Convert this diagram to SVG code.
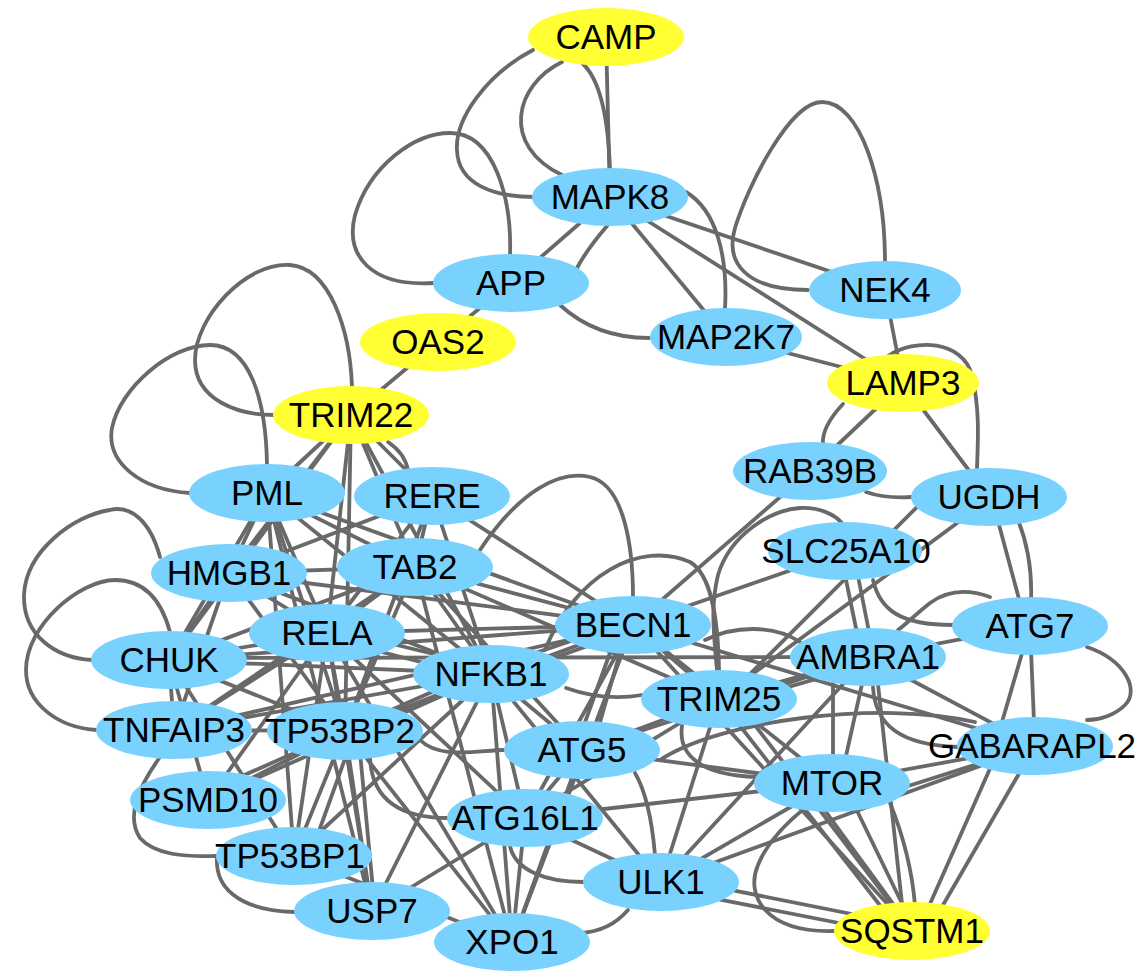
<svg xmlns="http://www.w3.org/2000/svg" width="1143" height="971" viewBox="0 0 1143 971">
<style>
.e line,.e path{fill:none;stroke:#696969;stroke-width:3.8;stroke-linecap:round}
.b ellipse{fill:#79D2FE}
.y ellipse{fill:#FFFF33}
text{font-family:"Liberation Sans",Arial,sans-serif;font-size:35px;text-anchor:middle;fill:#000}
</style>
<rect width="1143" height="971" fill="#fff"/>
<g id="edges" class="e">
<line x1="606" y1="37" x2="610" y2="197"/>
<line x1="610" y1="197" x2="511" y2="283"/>
<line x1="610" y1="197" x2="726" y2="337"/>
<line x1="610" y1="197" x2="903" y2="383"/>
<line x1="610" y1="197" x2="885" y2="290"/>
<line x1="885" y1="290" x2="903" y2="383"/>
<line x1="726" y1="337" x2="903" y2="383"/>
<line x1="903" y1="383" x2="810" y2="471"/>
<line x1="903" y1="383" x2="989" y2="497"/>
<line x1="438" y1="342" x2="351" y2="415"/>
<line x1="438" y1="342" x2="511" y2="283"/>
<line x1="930" y1="494" x2="719" y2="705"/>
<line x1="964" y1="518" x2="719" y2="699"/>
<line x1="840" y1="551" x2="862" y2="657"/>
<line x1="853" y1="551" x2="874" y2="657"/>
<line x1="633" y1="625" x2="810" y2="471"/>
<line x1="633" y1="625" x2="846" y2="551"/>
<line x1="995" y1="510" x2="1022" y2="610"/>
<line x1="1030" y1="626" x2="868" y2="657"/>
<line x1="1030" y1="626" x2="995" y2="746"/>
<line x1="1030" y1="626" x2="1035" y2="746"/>
<line x1="868" y1="657" x2="1035" y2="746"/>
<line x1="833" y1="660" x2="833" y2="783"/>
<line x1="868" y1="657" x2="840" y2="783"/>
<line x1="875" y1="657" x2="905" y2="931"/>
<line x1="868" y1="657" x2="661" y2="882"/>
<line x1="868" y1="657" x2="719" y2="699"/>
<line x1="865" y1="665" x2="722" y2="706"/>
<line x1="868" y1="657" x2="582" y2="750"/>
<line x1="169" y1="658" x2="868" y2="657"/>
<line x1="633" y1="625" x2="719" y2="699"/>
<line x1="633" y1="625" x2="832" y2="783"/>
<line x1="633" y1="625" x2="912" y2="931"/>
<line x1="575" y1="750" x2="620" y2="625"/>
<line x1="592" y1="750" x2="628" y2="625"/>
<line x1="633" y1="625" x2="525" y2="818"/>
<line x1="633" y1="625" x2="512" y2="943"/>
<line x1="633" y1="625" x2="1035" y2="746"/>
<line x1="832" y1="783" x2="1035" y2="746"/>
<line x1="880" y1="795" x2="990" y2="760"/>
<line x1="810" y1="790" x2="905" y2="920"/>
<line x1="847" y1="790" x2="910" y2="920"/>
<line x1="1000" y1="746" x2="918" y2="931"/>
<line x1="1035" y1="746" x2="928" y2="931"/>
<line x1="719" y1="699" x2="900" y2="931"/>
<line x1="735" y1="699" x2="912" y2="931"/>
<line x1="661" y1="876" x2="912" y2="926"/>
<line x1="661" y1="888" x2="905" y2="936"/>
<line x1="661" y1="882" x2="832" y2="783"/>
<line x1="661" y1="882" x2="1035" y2="746"/>
<line x1="661" y1="882" x2="719" y2="699"/>
<line x1="661" y1="882" x2="525" y2="818"/>
<line x1="525" y1="818" x2="582" y2="750"/>
<line x1="525" y1="818" x2="512" y2="943"/>
<line x1="525" y1="818" x2="719" y2="699"/>
<line x1="525" y1="818" x2="832" y2="783"/>
<line x1="582" y1="750" x2="832" y2="783"/>
<line x1="582" y1="750" x2="512" y2="943"/>
<line x1="582" y1="750" x2="719" y2="699"/>
<line x1="491" y1="674" x2="661" y2="882"/>
<line x1="491" y1="674" x2="525" y2="818"/>
<line x1="491" y1="674" x2="582" y2="750"/>
<line x1="491" y1="668" x2="633" y2="620"/>
<line x1="491" y1="680" x2="633" y2="630"/>
<line x1="491" y1="674" x2="372" y2="911"/>
<line x1="491" y1="674" x2="294" y2="856"/>
<line x1="491" y1="674" x2="208" y2="800"/>
<line x1="486" y1="668" x2="204" y2="793"/>
<line x1="491" y1="674" x2="174" y2="730"/>
<line x1="491" y1="674" x2="345" y2="731"/>
<line x1="491" y1="674" x2="512" y2="943"/>
<line x1="327" y1="628" x2="491" y2="668"/>
<line x1="327" y1="638" x2="491" y2="680"/>
<line x1="327" y1="633" x2="633" y2="625"/>
<line x1="327" y1="633" x2="345" y2="731"/>
<line x1="327" y1="633" x2="174" y2="730"/>
<line x1="327" y1="633" x2="208" y2="800"/>
<line x1="327" y1="633" x2="294" y2="856"/>
<line x1="327" y1="633" x2="372" y2="911"/>
<line x1="327" y1="633" x2="525" y2="818"/>
<line x1="327" y1="633" x2="512" y2="943"/>
<line x1="327" y1="633" x2="169" y2="660"/>
<line x1="169" y1="660" x2="491" y2="674"/>
<line x1="169" y1="660" x2="174" y2="730"/>
<line x1="169" y1="660" x2="345" y2="731"/>
<line x1="169" y1="660" x2="633" y2="625"/>
<line x1="169" y1="660" x2="294" y2="856"/>
<line x1="169" y1="660" x2="208" y2="800"/>
<line x1="174" y1="730" x2="345" y2="731"/>
<line x1="174" y1="730" x2="633" y2="625"/>
<line x1="345" y1="731" x2="294" y2="856"/>
<line x1="355" y1="731" x2="310" y2="856"/>
<line x1="345" y1="731" x2="372" y2="911"/>
<line x1="358" y1="731" x2="375" y2="911"/>
<line x1="345" y1="731" x2="208" y2="800"/>
<line x1="345" y1="731" x2="512" y2="943"/>
<line x1="345" y1="731" x2="633" y2="625"/>
<line x1="294" y1="856" x2="512" y2="943"/>
<line x1="372" y1="911" x2="525" y2="818"/>
<line x1="415" y1="567" x2="327" y2="633"/>
<line x1="415" y1="567" x2="491" y2="674"/>
<line x1="415" y1="567" x2="633" y2="625"/>
<line x1="415" y1="567" x2="345" y2="731"/>
<line x1="415" y1="567" x2="719" y2="699"/>
<line x1="415" y1="567" x2="582" y2="750"/>
<line x1="415" y1="567" x2="169" y2="660"/>
<line x1="415" y1="567" x2="174" y2="730"/>
<line x1="415" y1="567" x2="512" y2="943"/>
<line x1="229" y1="573" x2="327" y2="633"/>
<line x1="229" y1="573" x2="415" y2="567"/>
<line x1="229" y1="573" x2="491" y2="674"/>
<line x1="229" y1="573" x2="345" y2="731"/>
<line x1="229" y1="573" x2="633" y2="625"/>
<line x1="229" y1="573" x2="174" y2="730"/>
<line x1="229" y1="573" x2="169" y2="660"/>
<line x1="432" y1="496" x2="415" y2="567"/>
<line x1="432" y1="496" x2="327" y2="633"/>
<line x1="432" y1="496" x2="491" y2="674"/>
<line x1="432" y1="496" x2="633" y2="625"/>
<line x1="432" y1="496" x2="229" y2="573"/>
<line x1="432" y1="496" x2="345" y2="731"/>
<line x1="267" y1="493" x2="229" y2="573"/>
<line x1="267" y1="493" x2="327" y2="633"/>
<line x1="267" y1="493" x2="415" y2="567"/>
<line x1="267" y1="493" x2="491" y2="674"/>
<line x1="267" y1="493" x2="345" y2="731"/>
<line x1="267" y1="493" x2="294" y2="856"/>
<line x1="267" y1="493" x2="633" y2="625"/>
<line x1="267" y1="493" x2="169" y2="660"/>
<line x1="267" y1="493" x2="372" y2="911"/>
<line x1="351" y1="415" x2="267" y2="493"/>
<line x1="351" y1="415" x2="229" y2="573"/>
<line x1="351" y1="415" x2="327" y2="633"/>
<line x1="351" y1="415" x2="415" y2="567"/>
<line x1="351" y1="415" x2="432" y2="496"/>
<line x1="351" y1="415" x2="345" y2="731"/>
<line x1="351" y1="415" x2="491" y2="674"/>
<line x1="351" y1="415" x2="169" y2="660"/>
<path d="M583,64 C598,78 608,110 610,170"/>
<path d="M562,62 C515,85 500,145 562,175"/>
<path d="M533,50 C485,75 455,120 457,150 C458,185 495,197 535,197"/>
<path d="M434,283 C370,287 345,255 355,215 C370,165 415,133 450,133 C495,133 512,200 510,256"/>
<path d="M607,226 C595,240 585,253 577,268"/>
<path d="M686,192 C716,210 728,255 725,309"/>
<path d="M808,290 C745,290 725,262 735,228 C748,185 790,102 822,102 C860,102 885,180 885,262"/>
<path d="M560,305 C585,328 615,338 649,338"/>
<path d="M888,356 C915,338 962,340 972,375 C980,410 978,440 977,468"/>
<path d="M843,404 C828,420 822,432 823,444"/>
<path d="M866,492 C880,497 895,498 912,497"/>
<path d="M1018,520 C1028,545 1032,575 1031,600"/>
<path d="M352,387 C350,330 330,268 290,265 C245,262 195,318 195,360 C195,400 238,415 274,415"/>
<path d="M190,493 C140,490 106,462 112,428 C120,388 170,345 210,345 C250,345 266,400 267,465"/>
<path d="M388,442 C400,450 406,460 408,470"/>
<path d="M160,557 C150,520 130,505 110,510 C75,515 26,550 24,595 C23,635 55,658 92,660"/>
<path d="M170,632 C160,595 140,580 115,580 C80,580 26,625 26,670 C26,705 60,728 97,730"/>
<path d="M160,757 C140,785 125,815 140,838 C155,855 185,857 216,856"/>
<path d="M217,857 C215,885 235,910 294,912"/>
<path d="M370,758 C372,800 400,818 448,818"/>
<path d="M420,740 C440,760 480,750 504,750"/>
<path d="M510,846 C515,870 545,882 583,882"/>
<path d="M628,910 C615,925 600,932 580,933"/>
<path d="M655,855 C652,820 645,790 635,773"/>
<path d="M834,931 C765,933 745,895 758,865 C768,840 790,820 805,808"/>
<path d="M890,803 C905,840 912,870 915,905"/>
<path d="M480,550 C520,490 560,470 590,477 C625,485 633,550 633,597"/>
<path d="M545,650 C575,575 640,540 690,562 C712,575 718,620 719,670"/>
<path d="M717,670 C712,620 712,600 718,575 C730,535 770,510 800,508 C820,507 835,515 842,523"/>
<path d="M873,580 C880,610 900,625 953,625"/>
<path d="M990,597 C965,588 945,592 930,603 C915,615 905,625 898,630"/>
<path d="M1087,647 C1125,660 1140,690 1125,705 C1115,715 1100,720 1087,720"/>
<path d="M873,687 C875,725 900,745 958,747"/>
<path d="M705,640 C735,625 775,625 800,642"/>
<path d="M682,726 C678,755 700,775 757,777"/>
<path d="M566,688 C600,700 625,698 642,695"/>
<path d="M660,760 C720,720 880,700 975,722"/>
</g>
<g id="node-CAMP" class="y"><ellipse cx="606" cy="37" rx="78" ry="29"/><text x="606" y="49">CAMP</text></g>
<g id="node-MAPK8" class="b"><ellipse cx="610" cy="197" rx="78" ry="29"/><text x="610" y="209">MAPK8</text></g>
<g id="node-APP" class="b"><ellipse cx="511" cy="283" rx="78" ry="29"/><text x="511" y="295">APP</text></g>
<g id="node-NEK4" class="b"><ellipse cx="885" cy="290" rx="76" ry="29"/><text x="885" y="302">NEK4</text></g>
<g id="node-OAS2" class="y"><ellipse cx="438" cy="342" rx="78" ry="29"/><text x="438" y="354">OAS2</text></g>
<g id="node-MAP2K7" class="b"><ellipse cx="726" cy="337" rx="76" ry="29"/><text x="726" y="349">MAP2K7</text></g>
<g id="node-LAMP3" class="y"><ellipse cx="903" cy="383" rx="76" ry="29"/><text x="903" y="395">LAMP3</text></g>
<g id="node-TRIM22" class="y"><ellipse cx="351" cy="415" rx="78" ry="29"/><text x="351" y="427">TRIM22</text></g>
<g id="node-RAB39B" class="b"><ellipse cx="810" cy="471" rx="77" ry="29"/><text x="810" y="483">RAB39B</text></g>
<g id="node-UGDH" class="b"><ellipse cx="989" cy="497" rx="78" ry="29"/><text x="989" y="509">UGDH</text></g>
<g id="node-PML" class="b"><ellipse cx="267" cy="493" rx="78" ry="29"/><text x="267" y="505">PML</text></g>
<g id="node-RERE" class="b"><ellipse cx="432" cy="496" rx="78" ry="29"/><text x="432" y="508">RERE</text></g>
<g id="node-SLC25A10" class="b"><ellipse cx="845" cy="551" rx="77" ry="29"/><text x="846" y="563">SLC25A10</text></g>
<g id="node-HMGB1" class="b"><ellipse cx="229" cy="573" rx="78" ry="29"/><text x="229" y="585">HMGB1</text></g>
<g id="node-TAB2" class="b"><ellipse cx="415" cy="567" rx="78" ry="29"/><text x="415" y="579">TAB2</text></g>
<g id="node-ATG7" class="b"><ellipse cx="1030" cy="626" rx="78" ry="29"/><text x="1030" y="638">ATG7</text></g>
<g id="node-BECN1" class="b"><ellipse cx="633" cy="625" rx="78" ry="29"/><text x="633" y="637">BECN1</text></g>
<g id="node-RELA" class="b"><ellipse cx="327" cy="633" rx="78" ry="29"/><text x="327" y="645">RELA</text></g>
<g id="node-AMBRA1" class="b"><ellipse cx="868" cy="657" rx="78" ry="29"/><text x="868" y="669">AMBRA1</text></g>
<g id="node-CHUK" class="b"><ellipse cx="169" cy="660" rx="78" ry="29"/><text x="169" y="672">CHUK</text></g>
<g id="node-NFKB1" class="b"><ellipse cx="491" cy="674" rx="78" ry="29"/><text x="491" y="686">NFKB1</text></g>
<g id="node-TRIM25" class="b"><ellipse cx="719" cy="699" rx="78" ry="29"/><text x="719" y="711">TRIM25</text></g>
<g id="node-TNFAIP3" class="b"><ellipse cx="174" cy="730" rx="78" ry="29"/><text x="174" y="742">TNFAIP3</text></g>
<g id="node-TP53BP2" class="b"><ellipse cx="345" cy="731" rx="78" ry="29"/><text x="340" y="743">TP53BP2</text></g>
<g id="node-ATG5" class="b"><ellipse cx="582" cy="750" rx="78" ry="29"/><text x="582" y="762">ATG5</text></g>
<g id="node-GABARAPL2" class="b"><ellipse cx="1035" cy="746" rx="78" ry="29"/><text x="1032" y="758">GABARAPL2</text></g>
<g id="node-MTOR" class="b"><ellipse cx="832" cy="783" rx="78" ry="29"/><text x="832" y="795">MTOR</text></g>
<g id="node-PSMD10" class="b"><ellipse cx="208" cy="800" rx="78" ry="29"/><text x="208" y="812">PSMD10</text></g>
<g id="node-ATG16L1" class="b"><ellipse cx="525" cy="818" rx="78" ry="29"/><text x="525" y="830">ATG16L1</text></g>
<g id="node-TP53BP1" class="b"><ellipse cx="294" cy="856" rx="78" ry="29"/><text x="290" y="868">TP53BP1</text></g>
<g id="node-ULK1" class="b"><ellipse cx="661" cy="882" rx="78" ry="29"/><text x="661" y="894">ULK1</text></g>
<g id="node-USP7" class="b"><ellipse cx="372" cy="911" rx="78" ry="29"/><text x="372" y="923">USP7</text></g>
<g id="node-SQSTM1" class="y"><ellipse cx="912" cy="931" rx="78" ry="29"/><text x="912" y="943">SQSTM1</text></g>
<g id="node-XPO1" class="b"><ellipse cx="512" cy="942" rx="78" ry="29"/><text x="512" y="954">XPO1</text></g>
</svg>
